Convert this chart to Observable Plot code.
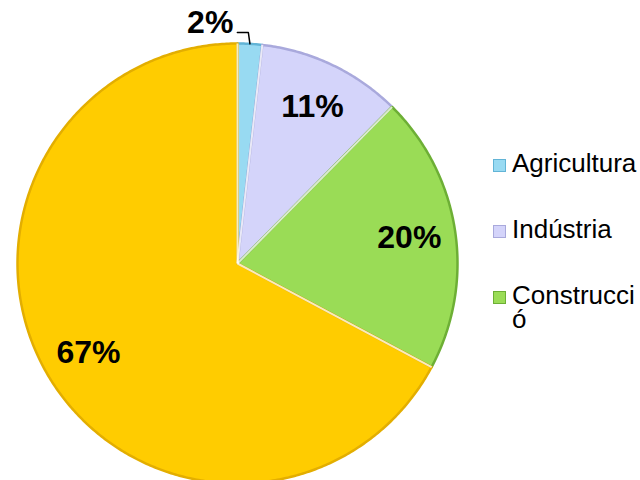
<!DOCTYPE html>
<html><head><meta charset="utf-8">
<script src="https://cdn.jsdelivr.net/npm/d3@7"></script>
<script src="https://cdn.jsdelivr.net/npm/@observablehq/plot@0.6"></script>
<style>
html,body{margin:0;padding:0;background:#fff;overflow:hidden;width:640px;height:480px;}
#chart{position:absolute;left:0;top:0;}
#chart svg{overflow:hidden;display:block;background:transparent;}
.legend{position:absolute;left:493px;top:151px;font-family:"Liberation Sans",Arial,sans-serif;font-size:26px;color:#000;}
.item{position:absolute;left:0;display:flex;}
.sw{width:13px;height:13px;margin-top:8px;margin-right:6px;box-sizing:border-box;flex:none;}
.lab{width:128px;line-height:24px;word-break:break-all;}
</style></head><body>
<div id="chart"></div><div class="legend" id="legend"></div>
<script>
const categories = ["Agricultura", "Indústria", "Construcció", "Serveis"];
const shares = [1.8, 10.6, 20.4, 67.2];
const colors = ["#98DAF2", "#D4D4FA", "#9ADC56", "#FFCC00"];
const edgeColors = ["#62B4D6", "#A9A9DC", "#6DAF35", "#E3AE00"];
const legendCount = 3;

const arcs = d3.pie().sort(null).value(d => d)(shares);
const polys = [];
arcs.forEach((a, i) => {
  polys.push({cat: categories[i], x: 0, y: 0, fill: colors[i], edge: edgeColors[i]});
  const n = Math.max(2, Math.ceil((a.endAngle - a.startAngle) / 0.01));
  for (let k = 0; k <= n; k++) {
    const t = a.startAngle + (a.endAngle - a.startAngle) * k / n;
    polys.push({cat: categories[i], x: Math.sin(t), y: Math.cos(t), fill: colors[i], edge: edgeColors[i]});
  }
  polys.push({cat: categories[i], x: 0, y: 0, fill: colors[i], edge: edgeColors[i]});
});
const seps = arcs.map(a => ({x2: Math.sin(a.startAngle), y2: Math.cos(a.startAngle)}));
const inside = [], outside = [], leader = [];
arcs.forEach((a, i) => {
  const m = (a.startAngle + a.endAngle) / 2;
  const txt = Math.round(shares[i]) + "%";
  if (shares[i] >= 5) {
    inside.push({x: 0.79 * Math.sin(m), y: 0.79 * Math.cos(m), t: txt});
  } else {
    const p0 = {x: Math.sin(m), y: Math.cos(m)};
    const p1 = {x: 1.05 * Math.sin(m) - 0.01, y: 1.05};
    const p2 = {x: p1.x - 0.05, y: 1.05};
    leader.push(p0, p1, p2);
    outside.push({x: p2.x, y: p2.y, t: txt});
  }
});

const font = "Liberation Sans, Arial, sans-serif";
const chart = Plot.plot({
  width: 640, height: 480, margin: 0,
  style: {background: "transparent", overflow: "hidden"},
  x: {domain: [-1, 1], range: [17, 457], axis: null},
  y: {domain: [-1, 1], range: [483, 43], axis: null},
  color: {type: "identity"},
  marks: [
    Plot.line(polys, {x: "x", y: "y", z: "cat", fill: "fill", stroke: "edge", strokeWidth: 2.5, strokeLinejoin: "round", clip: true}),
    Plot.link(seps, {x1: 0, y1: 0, x2: "x2", y2: "y2", stroke: "white", strokeOpacity: 0.75, strokeWidth: 2, clip: true}),
    Plot.text(inside, {x: "x", y: "y", text: "t", fontSize: 32, fontWeight: "bold", fill: "black", fontFamily: font}),
    Plot.line(leader, {x: "x", y: "y", stroke: "black", strokeWidth: 1.5}),
    Plot.text(outside, {x: "x", y: "y", text: "t", dx: -4, dy: -10, textAnchor: "end", fontSize: 32, fontWeight: "bold", fill: "black", fontFamily: font})
  ]
});
document.getElementById("chart").appendChild(chart);

const leg = document.getElementById("legend");
categories.slice(0, legendCount).forEach((c, i) => {
  const item = document.createElement("div");
  item.className = "item";
  item.style.top = (i * 66) + "px";
  const sw = document.createElement("div");
  sw.className = "sw";
  sw.style.background = colors[i];
  sw.style.border = "1.5px solid " + edgeColors[i];
  const lab = document.createElement("div");
  lab.className = "lab";
  lab.textContent = c;
  item.appendChild(sw); item.appendChild(lab);
  leg.appendChild(item);
});
</script>
</body></html>
